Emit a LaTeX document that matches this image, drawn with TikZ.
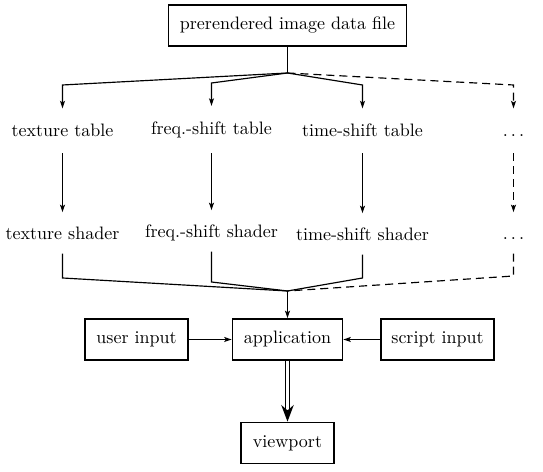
\documentclass[tikz,border=0pt]{standalone}
\usetikzlibrary{arrows.meta}
\begin{document}
\begin{tikzpicture}[x=0.6pt,y=-0.6pt,
 font=\fontsize{10.8}{13}\selectfont,
 box/.style={draw, line width=1pt, minimum height=24.6pt, inner sep=0pt},
 lbl/.style={anchor=base, inner sep=0pt, text height=7pt, text depth=2pt},
 con/.style={line width=0.7pt},
 arr/.style={con, -{Stealth[length=4.5pt,width=3pt,inset=1pt]}},
 dsh/.style={dash pattern=on 4.8pt off 3pt}]
\useasboundingbox (0,0) rectangle (543,472);
% boxes
\node[box, minimum width=142.8pt] (top) at (287.5,25.5) {prerendered image data file};
\node[box, minimum width=61.8pt] (user) at (136.5,339.5) {user input};
\node[box, minimum width=66pt] (app) at (287.5,339.5) {application};
\node[box, minimum width=67.8pt] (script) at (437.5,339.5) {script input};
\node[box, minimum width=55.8pt] (view) at (287.5,443) {viewport};
% labels row 1
\node[lbl] (tt) at (62.5,137) {texture table};
\node[lbl] (ft) at (211.5,134.5) {freq.-shift table};
\node[lbl] (st) at (362.5,137) {time-shift table};
\node[lbl] (dt) at (513.5,137) {$\ldots$};
% labels row 2
\node[lbl] (ts) at (62.5,240) {texture shader};
\node[lbl] (fs) at (211.5,238) {freq.-shift shader};
\node[lbl] (ss) at (362.5,241) {time-shift shader};
\node[lbl] (ds) at (513.5,240) {$\ldots$};
% coordinates
\coordinate (j1) at (287.5,73);
\coordinate (c1) at (62.5,85);
\coordinate (c2) at (211.5,83);
\coordinate (c3) at (362.5,85);
\coordinate (c4) at (513.5,85);
\coordinate (j2) at (287.5,291);
\coordinate (d1) at (62.5,278);
\coordinate (d2) at (211.5,282);
\coordinate (d3) at (362.5,278);
\coordinate (d4) at (513.5,276);
% top distribution
\draw[con] (top) -- (j1);
\draw[arr, shorten >=10pt] (j1) -- (c1) -- (tt.north);
\draw[arr, shorten >=10pt] (j1) -- (c2) -- (ft.north);
\draw[arr, shorten >=10pt] (j1) -- (c3) -- (st.north);
\draw[arr, dsh, shorten >=10pt] (j1) -- (c4) -- (dt.north);
% table to shader
\draw[arr, shorten <=7.5pt, shorten >=9.5pt] (tt.south) -- (ts.north);
\draw[arr, shorten <=7.5pt, shorten >=9.5pt] (ft |- tt.south) -- (fs.north);
\draw[arr, shorten <=7.5pt, shorten >=9.5pt] (st.south) -- (ss.north);
\draw[arr, dsh, shorten <=7.5pt, shorten >=9.5pt] (dt.south) -- (ds.north);
% shaders to junction
\draw[con, shorten <=6pt] (ts.south) -- (d1) -- (j2);
\draw[con, shorten <=6pt] (fs.south) -- (d2) -- (j2);
\draw[con, shorten <=6pt] (ss.south) -- (d3) -- (j2);
\draw[con, dsh, shorten <=6pt] (ds.south) -- (d4) -- (j2);
\draw[arr] (j2) -- (app);
% inputs
\draw[arr] (user) -- (app);
\draw[arr] (script) -- (app);
% output
\draw[double, double distance=1.4pt, line width=1pt, -{Stealth[length=10pt,width=7.5pt]}] (app) -- (view);
\end{tikzpicture}
\end{document}
